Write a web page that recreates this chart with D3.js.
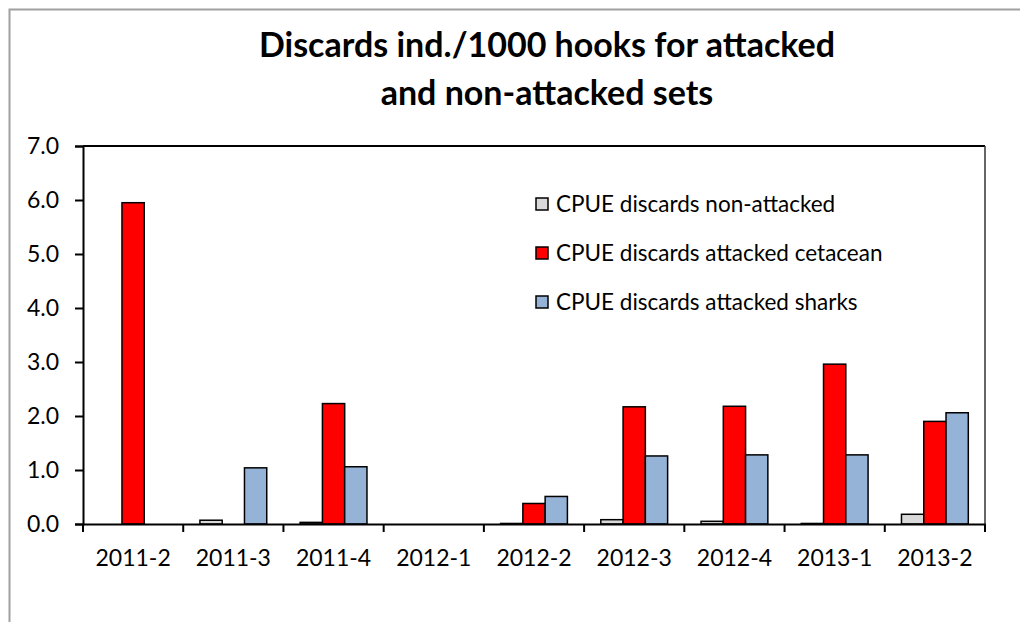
<!DOCTYPE html>
<html lang="en">
<head>
<meta charset="UTF-8">
<title>Discards ind./1000 hooks</title>
<script src="https://d3js.org/d3.v7.min.js"></script>
<style>
    body { margin: 0; background: #fff; }
    svg text { font-family: Lato, "Open Sans", sans-serif; fill: #000; }
</style>
</head>
<body>
<div id="chart"></div>
<script>
    // data
    const periods = ["2011-2", "2011-3", "2011-4", "2012-1", "2012-2", "2012-3", "2012-4", "2013-1", "2013-2"];
    const nonAttacked = [0, 0.07, 0.03, 0, 0.01, 0.08, 0.05, 0.01, 0.18];
    const attackedCetacean = [5.95, 0, 2.23, 0, 0.38, 2.17, 2.18, 2.96, 1.90];
    const attackedSharks = [0, 1.04, 1.06, 0, 0.51, 1.26, 1.28, 1.28, 2.06];
    const seriesNames = ["CPUE discards non-attacked", "CPUE discards attacked cetacean", "CPUE discards attacked sharks"];
    const seriesColors = ["#d9d9d9", "#ff0000", "#95b3d7"];
    const yTicks = [0, 1, 2, 3, 4, 5, 6, 7];
    const titleLines = ["Discards ind./1000 hooks for attacked", "and non-attacked sets"];

    const W = 1020, H = 622;
    const margin = {top: 146, right: 35, bottom: 98, left: 83};
    const width = 985 - margin.left;
    const height = 524 - margin.top;

    const svg = d3.select("#chart").append("svg")
        .attr("width", W)
        .attr("height", H);

    // outer chart frame (runs off the right and bottom edge)
    svg.append("rect")
        .attr("x", 9.5).attr("y", 9.5)
        .attr("width", W + 50).attr("height", H + 50)
        .attr("fill", "none")
        .attr("stroke", "#a0a0a0")
        .attr("stroke-width", 2);

    // title
    svg.append("text")
        .attr("x", 547)
        .attr("text-anchor", "middle")
        .style("font-weight", "bold")
        .style("font-size", "34px")
        .selectAll("tspan")
        .data(titleLines)
        .enter().append("tspan")
        .attr("x", 547)
        .attr("y", (d, i) => 57 + i * 48)
        .text(d => d);

    const g = svg.append("g")
        .attr("transform", `translate(${margin.left},${margin.top})`);

    const x = d3.scaleBand().domain(periods).range([0, width]).paddingInner(0).paddingOuter(0);
    const xSub = d3.scaleBand().domain(d3.range(3)).range([0, x.bandwidth()])
        .paddingInner(0).paddingOuter(0.75);
    const y = d3.scaleLinear().domain([0, 7]).range([height, 0]);

    const rows = periods.map((p, i) => ({
        period: p,
        values: [nonAttacked[i], attackedCetacean[i], attackedSharks[i]]
    }));

    // plot frame: top and right
    g.append("line")
        .attr("x1", 0).attr("x2", width)
        .attr("y1", y(7)).attr("y2", y(7))
        .attr("stroke", "#000").attr("stroke-width", 2);
    g.append("line")
        .attr("x1", width).attr("x2", width)
        .attr("y1", y(7)).attr("y2", y(0))
        .attr("stroke", "#333").attr("stroke-width", 1.5);

    // bars
    const group = g.selectAll("g.period")
        .data(rows)
        .enter().append("g")
        .attr("class", "period")
        .attr("transform", d => `translate(${x(d.period)},0)`);

    group.selectAll("rect")
        .data(d => d.values.map((v, k) => ({v, k})))
        .enter().append("rect")
        .attr("x", d => xSub(d.k))
        .attr("width", xSub.bandwidth())
        .attr("y", d => y(d.v))
        .attr("height", d => y(0) - y(d.v))
        .attr("fill", d => seriesColors[d.k])
        .attr("stroke", "#000")
        .attr("stroke-width", 1.5);

    // y axis
    const yAxis = g.append("g")
        .call(d3.axisLeft(y).tickValues(yTicks).tickFormat(d3.format(".1f")).tickSizeOuter(0).tickSize(8).tickPadding(16));
    yAxis.select(".domain").attr("stroke", "#000").attr("stroke-width", 2);
    yAxis.selectAll(".tick line").attr("stroke", "#000").attr("stroke-width", 2);
    yAxis.selectAll("text").style("font-size", "23px");

    // x axis: labels centred in bands, ticks on band edges
    const xAxis = g.append("g")
        .attr("transform", `translate(0,${height})`)
        .call(d3.axisBottom(x).tickSize(0).tickSizeOuter(0).tickPadding(26));
    xAxis.select(".domain").attr("stroke", "#000").attr("stroke-width", 2);
    xAxis.selectAll("text").style("font-size", "23px");

    const edges = periods.map(p => x(p)).concat([width]);
    xAxis.selectAll("line.edge")
        .data(edges)
        .enter().append("line")
        .attr("class", "edge")
        .attr("x1", d => d).attr("x2", d => d)
        .attr("y1", 0).attr("y2", 8)
        .attr("stroke", "#000").attr("stroke-width", 2);

    // legend
    const legend = svg.selectAll("g.legend")
        .data(seriesNames)
        .enter().append("g")
        .attr("class", "legend")
        .attr("transform", (d, i) => `translate(536,${204 + i * 49})`);

    legend.append("rect")
        .attr("x", 0).attr("y", -6)
        .attr("width", 12).attr("height", 12)
        .attr("fill", (d, i) => seriesColors[i])
        .attr("stroke", "#000")
        .attr("stroke-width", 1.5);

    legend.append("text")
        .attr("x", 20)
        .attr("dy", "0.36em")
        .style("font-size", "22.5px")
        .text(d => d);
</script>
</body>
</html>
